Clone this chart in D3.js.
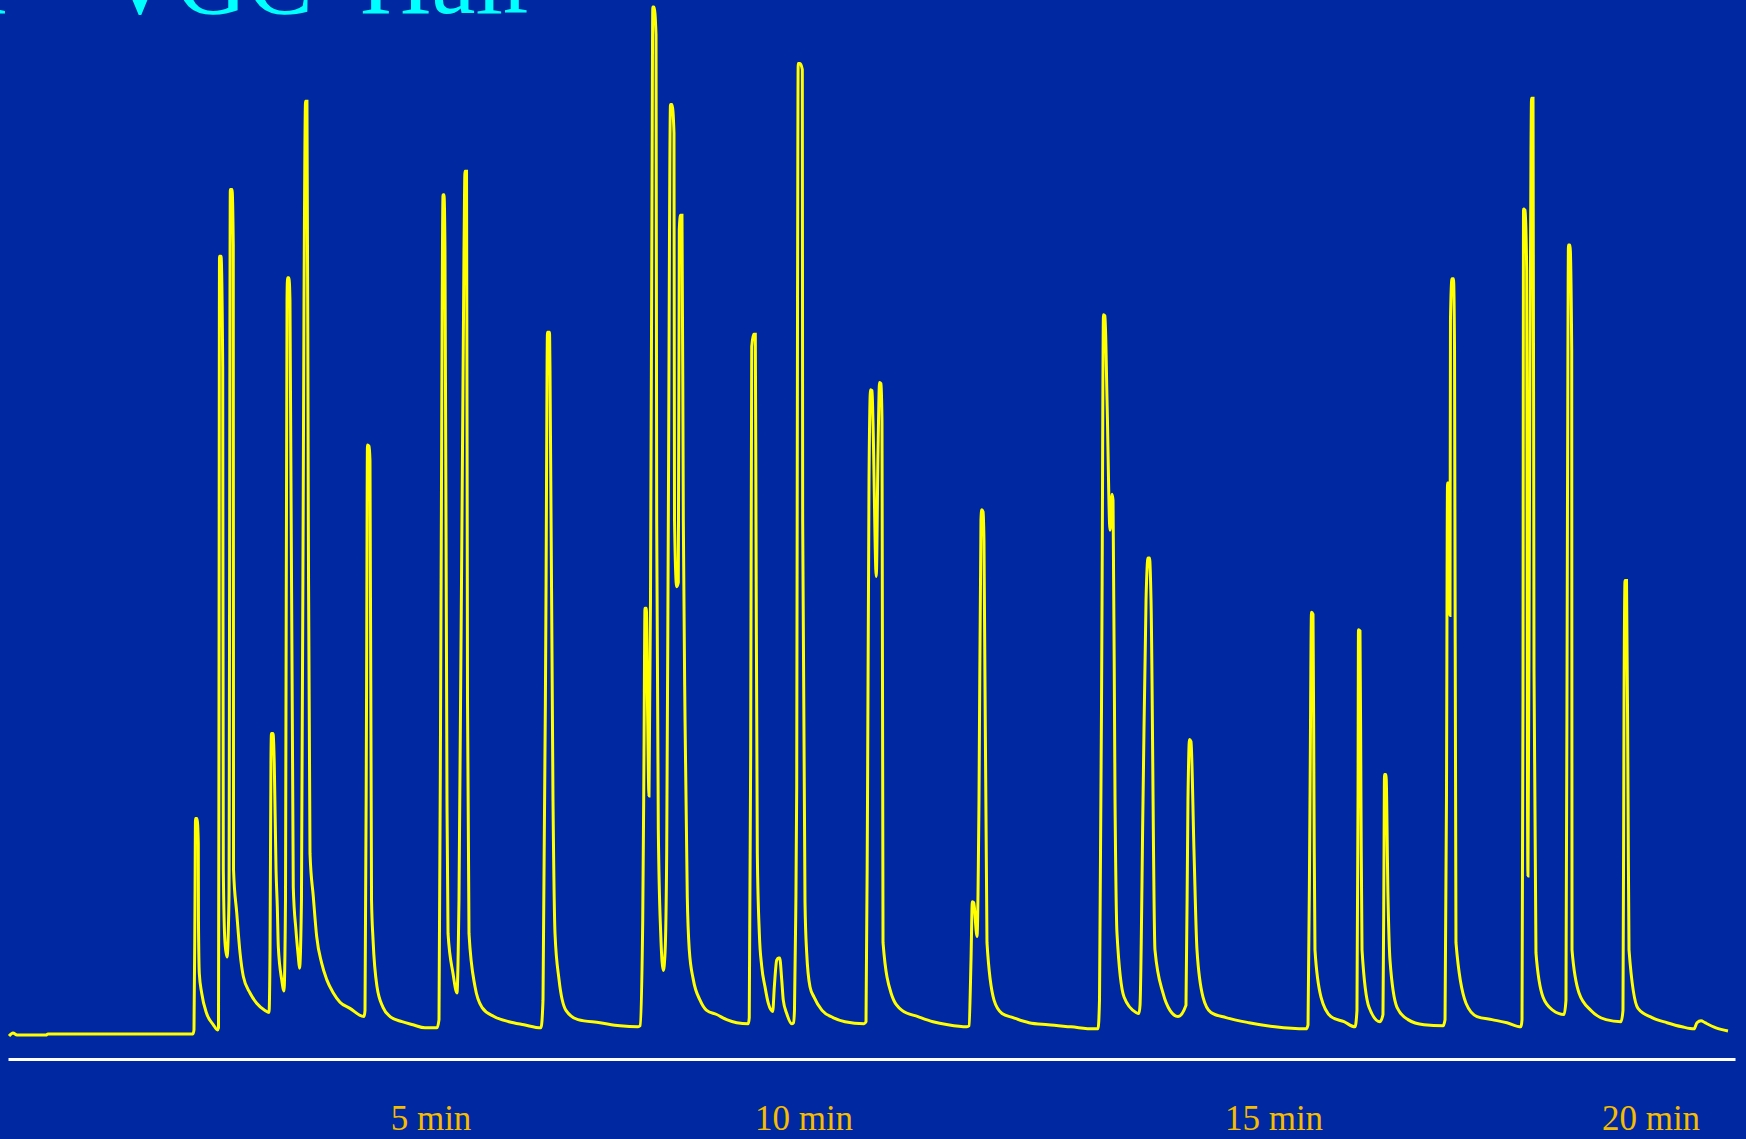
<!DOCTYPE html>
<html>
<head>
<meta charset="utf-8">
<script src="https://cdn.jsdelivr.net/npm/d3@7/dist/d3.min.js"></script>
<style>
  html, body { margin: 0; padding: 0; background: #0028A0; }
  svg { display: block; }
</style>
</head>
<body>
<svg id="chart" width="1746" height="1139"></svg>
<script>
// Retention time (min) of each recorded point of the FID trace
const traceTime = [
  0.012, 0.059, 0.107, 0.450, 0.473, 2.189,
  2.201, 2.213, 2.219, 2.237, 2.252, 2.254, 2.264, 2.292, 2.351, 2.430, 2.479,
  2.491, 2.497, 2.503, 2.521, 2.541, 2.548, 2.568, 2.592,
  2.615, 2.631, 2.651, 2.666, 2.669, 2.707, 2.746, 2.785, 2.864, 2.943, 3.041, 3.089,
  3.101, 3.112, 3.118, 3.136, 3.151, 3.172, 3.187, 3.199, 3.239, 3.266,
  3.284, 3.302, 3.308, 3.325, 3.337, 3.376, 3.408, 3.436, 3.450,
  3.473, 3.503, 3.521, 3.538, 3.554, 3.574, 3.613, 3.653, 3.712, 3.772, 3.850, 3.929, 4.047, 4.213,
  4.225, 4.243, 4.254, 4.272, 4.284, 4.302, 4.320, 4.367, 4.438, 4.521, 4.663, 4.793, 4.935, 5.087,
  5.114, 5.141, 5.168, 5.181, 5.194, 5.221, 5.235, 5.302, 5.355,
  5.382, 5.449, 5.462, 5.483, 5.496, 5.516, 5.597, 5.690, 5.851, 6.052, 6.253, 6.481,
  6.508, 6.548, 6.568, 6.595, 6.602, 6.642, 6.669, 6.723, 6.816, 6.977, 7.272, 7.540, 7.782,
  7.809, 7.845, 7.862, 7.875, 7.893, 7.906, 7.929,
  7.949, 7.969, 7.980, 7.996, 8.023, 8.032, 8.054, 8.086, 8.121,
  8.144, 8.166, 8.188, 8.217, 8.237, 8.264, 8.271, 8.300,
  8.322, 8.335, 8.351, 8.371, 8.389, 8.412, 8.442, 8.469, 8.523, 8.613, 8.702, 8.836, 8.970, 9.105, 9.260,
  9.273, 9.292, 9.306, 9.332, 9.354, 9.363, 9.381, 9.408, 9.440, 9.484, 9.528, 9.587,
  9.609, 9.641, 9.665, 9.681, 9.708, 9.729, 9.775, 9.842, 9.866,
  9.879, 9.895, 9.909, 9.920, 9.929, 9.953, 9.984, 9.989, 10.016, 10.034, 10.069, 10.112, 10.197, 10.314, 10.441, 10.644,
  10.665, 10.681, 10.697, 10.713, 10.729, 10.739, 10.774, 10.793, 10.809, 10.824, 10.835, 10.846, 10.931, 11.048, 11.218, 11.378, 11.537, 11.739,
  11.761, 11.782, 11.796, 11.811, 11.846, 11.867, 11.888, 11.896, 11.910, 11.920, 11.952, 12.027, 12.112, 12.229, 12.399, 12.601, 12.846, 13.090, 13.133,
  13.149, 13.176, 13.191, 13.207, 13.229, 13.261, 13.282, 13.293, 13.314, 13.335, 13.410, 13.537, 13.569,
  13.580, 13.612, 13.644, 13.665, 13.681, 13.697, 13.739, 13.824, 13.899, 13.984,
  14.069, 14.090, 14.106, 14.122, 14.154, 14.186, 14.250, 14.335, 14.495, 14.739, 15.020, 15.431,
  15.458, 15.484, 15.504, 15.524, 15.537, 15.550, 15.630, 15.763, 15.935, 16.081,
  16.107, 16.121, 16.127, 16.147, 16.160, 16.174, 16.267, 16.412,
  16.452, 16.466, 16.472, 16.492, 16.519, 16.545, 16.638, 16.784, 16.996, 17.248,
  17.275, 17.294, 17.308, 17.328, 17.334, 17.341, 17.347, 17.367, 17.387, 17.401, 17.420, 17.553, 17.699, 17.898, 18.097, 18.282,
  18.296, 18.309, 18.316, 18.336, 18.358, 18.369, 18.375, 18.395, 18.415, 18.422, 18.442, 18.455, 18.481, 18.574, 18.707, 18.853,
  18.879, 18.899, 18.912, 18.932, 18.955, 18.959, 19.052, 19.211, 19.410, 19.609,
  19.635, 19.649, 19.662, 19.682, 19.702, 19.715, 19.834, 20.018, 20.195, 20.373, 20.515, 20.550, 20.598, 20.645, 20.775, 20.917
];

// Detector signal (% of full scale) at each of those times
const traceSignal = [
  -0.2, 0.1, -0.1, -0.1, 0.0, 0.0,
  0.4, 13.1, 21.0, 21.0, 18.6, 11.1, 5.9, 4.0, 2.0, 0.9, 0.4,
  0.6, 32.6, 75.8, 75.8, 65.0, 16.0, 8.9, 7.5,
  13.1, 82.3, 82.3, 76.9, 16.0, 11.8, 7.9, 5.6, 4.0, 3.0, 2.3, 2.1,
  8.2, 26.7, 29.3, 29.3, 26.4, 16.0, 12.4, 8.5, 5.3, 4.2,
  13.1, 71.5, 73.7, 73.7, 71.5, 14.3, 10.1, 7.5, 6.4,
  13.1, 71.5, 90.9, 90.9, 50.1, 17.6, 13.4, 9.5, 6.9, 5.3, 4.0, 3.1, 2.5, 1.7,
  2.3, 32.6, 57.4, 57.3, 55.9, 13.1, 9.2, 4.6, 2.6, 1.7, 1.2, 0.9, 0.6, 0.6,
  1.4, 42.3, 81.8, 81.8, 76.4, 22.8, 9.8, 5.9, 4.0,
  13.1, 76.4, 84.1, 84.1, 32.6, 9.8, 4.6, 2.6, 1.7, 1.2, 0.9, 0.6,
  3.3, 42.3, 68.4, 68.4, 64.7, 22.8, 9.8, 5.3, 2.3, 1.4, 1.1, 0.8, 0.7,
  0.8, 11.1, 27.4, 41.5, 41.5, 33.8, 23.2,
  42.3, 81.3, 100.1, 100.1, 97.4, 50.1, 19.9, 9.8, 6.2,
  7.9, 17.6, 50.1, 90.6, 90.6, 87.8, 50.1, 43.6,
  44.0, 78.4, 79.8, 79.8, 50.1, 30.6, 13.4, 8.2, 5.3, 3.3, 2.3, 1.9, 1.4, 1.1, 1.0,
  1.6, 27.4, 67.0, 68.2, 68.2, 50.1, 17.6, 9.8, 6.6, 4.6, 3.0, 2.2,
  4.6, 7.2, 7.4, 7.4, 5.3, 3.3, 2.0, 1.0, 1.1,
  2.3, 11.1, 24.1, 71.5, 94.6, 94.6, 94.0, 50.1, 12.8, 7.9, 4.6, 3.6, 2.3, 1.6, 1.2, 1.0,
  1.2, 22.8, 54.0, 62.8, 62.7, 59.8, 44.6, 56.9, 63.5, 63.4, 59.8, 8.9, 4.0, 2.3, 1.7, 1.2, 0.9, 0.7,
  0.8, 7.2, 12.9, 12.8, 9.5, 22.8, 50.1, 51.1, 50.9, 48.1, 8.9, 3.3, 2.0, 1.6, 1.1, 0.9, 0.7, 0.5, 0.5,
  3.3, 42.3, 70.1, 70.0, 61.8, 49.1, 52.6, 52.0, 22.8, 9.8, 3.6, 2.1, 2.0,
  2.8, 22.8, 42.3, 46.4, 46.4, 42.3, 8.2, 4.0, 2.3, 1.7,
  2.8, 22.8, 28.7, 28.5, 17.9, 8.2, 3.6, 2.1, 1.6, 1.1, 0.7, 0.5,
  0.9, 22.8, 41.1, 40.9, 22.8, 8.2, 3.6, 1.7, 1.2, 0.7,
  2.3, 22.8, 39.4, 39.3, 22.8, 8.2, 2.6, 1.2,
  1.9, 17.9, 25.3, 25.3, 13.1, 7.2, 2.6, 1.4, 0.9, 0.8,
  1.4, 22.8, 53.7, 53.7, 42.3, 40.8, 69.6, 73.6, 73.6, 66.7, 8.9, 3.0, 1.7, 1.4, 1.1, 0.7,
  1.4, 32.6, 80.4, 80.3, 74.4, 22.8, 15.4, 52.0, 86.2, 91.2, 91.2, 35.5, 7.9, 3.6, 2.3, 1.9,
  3.3, 52.0, 76.9, 76.9, 66.6, 8.2, 4.0, 2.3, 1.4, 1.2,
  2.3, 32.6, 44.2, 44.2, 22.8, 8.2, 2.5, 1.6, 1.1, 0.7, 0.5, 1.1, 1.3, 1.1, 0.6, 0.3
];

// Time marks written under the trace
const tickTimes = [5, 10, 15, 20];
const tickLabels = ["5 min", "10 min", "15 min", "20 min"];

const titleLead = "X – VGC";
const titleTail = "Hair";

const W = 1746, H = 1139;
const svg = d3.select("#chart");

svg.append("rect")
  .attr("width", W).attr("height", H)
  .attr("fill", "#0028A0");

// Chart-paper speed drifted, so the time axis is calibrated piecewise
// between the written time marks.
const x = d3.scaleLinear()
  .domain([0, 5, 10, 15, 20, 21])
  .range([8, 430.5, 803.5, 1273.5, 1650.5, 1735]);

const y = d3.scaleLinear()
  .domain([0, 100])
  .range([1034, 8]);

const points = traceTime.map((t, i) => ({ t, v: traceSignal[i] }));

// Baseline rule with time labels
const axis = d3.axisBottom(x)
  .tickValues(tickTimes)
  .tickFormat((d, i) => tickLabels[i])
  .tickSize(0)
  .tickSizeOuter(0);

const gAxis = svg.append("g")
  .attr("transform", "translate(0,1059)")
  .call(axis);

gAxis.select(".domain")
  .attr("stroke", "#FFFFFF")
  .attr("stroke-width", 3);

gAxis.selectAll(".tick text")
  .attr("y", 71)
  .attr("dy", 0)
  .attr("fill", "#F5BC00")
  .attr("font-family", "'Liberation Serif', 'Times New Roman', serif")
  .attr("font-size", 35);

// Chromatogram trace (smooth tailing between recorded points)
const line = d3.line()
  .x(d => x(d.t))
  .y(d => y(d.v))
  .curve(d3.curveMonotoneX);

svg.append("path")
  .datum(points)
  .attr("d", line)
  .attr("fill", "none")
  .attr("stroke", "#FFFF00")
  .attr("stroke-width", 3)
  .attr("stroke-linejoin", "miter")
  .attr("stroke-miterlimit", 2);

// Slide title (runs off the top edge)
const title = svg.append("text")
  .attr("y", 12.7)
  .attr("fill", "#00FFFF")
  .attr("font-family", "'Liberation Serif', 'Times New Roman', serif")
  .attr("font-size", 99);

title.append("tspan")
  .attr("x", 313)
  .attr("text-anchor", "end")
  .text(titleLead);

title.append("tspan")
  .attr("x", 360)
  .attr("text-anchor", "start")
  .text(titleTail);
</script>
</body>
</html>
